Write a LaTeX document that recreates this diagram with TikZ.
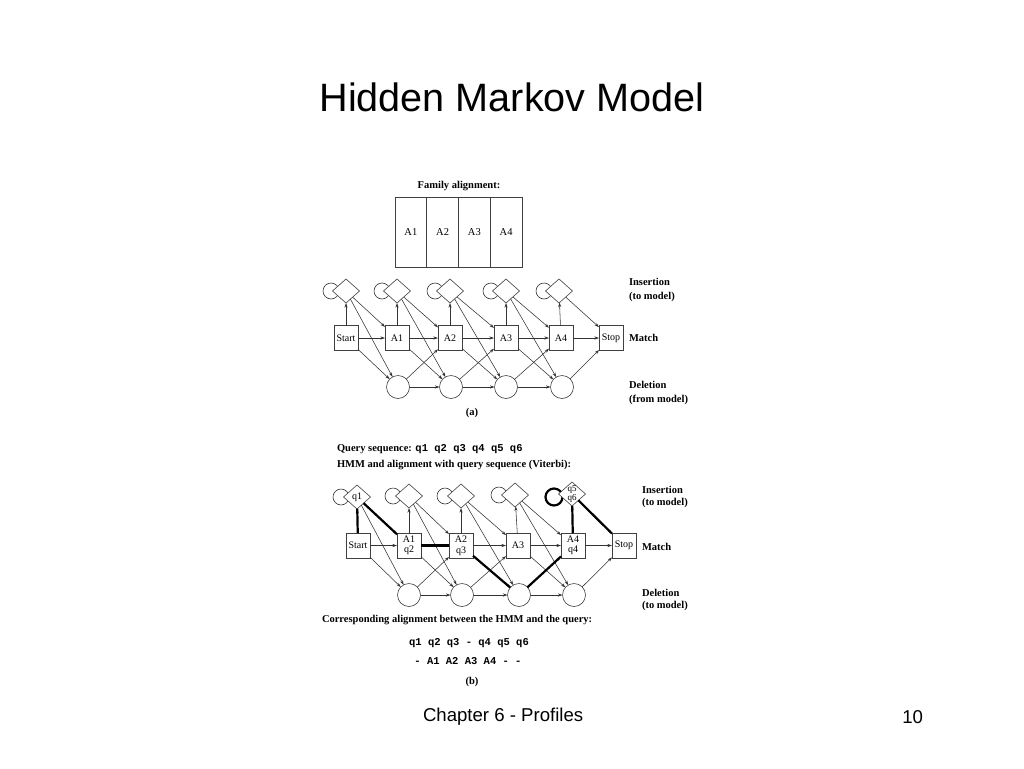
\documentclass[tikz,border=0pt]{standalone}
\usepackage{fontspec}
\setmainfont{Liberation Serif}
\newfontfamily\arialf{Liberation Sans}
\newfontfamily\courf{Liberation Mono}
\usetikzlibrary{shapes.geometric,arrows.meta}
\pgfdeclarelayer{bg}
\pgfdeclarelayer{paper}
\pgfsetlayers{paper,bg,main}
\begin{document}
\begin{tikzpicture}[x=1pt,y=-1pt,
 every node/.style={inner sep=0pt, outer sep=0pt},
 mbox/.style={draw=black!75, line width=0.6pt, fill=white, minimum width=24pt, minimum height=25pt, font=\fontsize{10}{10.5}\selectfont, align=center},
 ins/.style={draw=black!75, line width=0.6pt, fill=white, diamond, minimum width=27pt, minimum height=24pt},
 del/.style={draw=black!75, line width=0.6pt, fill=white, circle, minimum size=23pt},
 cell/.style={draw=black!75, line width=0.6pt, minimum width=31.75pt, minimum height=70pt, font=\fontsize{10.5}{12}\selectfont},
 tr/.style={draw=black!80, line width=0.55pt, -{Stealth[length=4.5pt,width=3pt]}},
 hv/.style={draw=black, line width=2.2pt},
 loopline/.style={draw=black!80, line width=0.6pt},
 lab/.style={font=\bfseries\fontsize{10.5}{14}\selectfont, anchor=west, align=left},
 labb/.style={font=\bfseries\fontsize{10.5}{12.5}\selectfont, anchor=west, align=left},
 txt/.style={font=\bfseries\fontsize{10.5}{12}\selectfont},
 mono/.style={font=\courf\bfseries\fontsize{10.5}{12}\selectfont},
]
\begin{pgfonlayer}{paper}
  \fill[white] (0,0) rectangle (1024,768);
\end{pgfonlayer}
\useasboundingbox (0,0) rectangle (1024,768);

% title and footer
\node[font=\arialf\fontsize{39.6}{42}\selectfont] (title) at (512,97) {Hidden Markov Model};
\node[font=\arialf\fontsize{18.6}{20}\selectfont, anchor=west] (foot) at (423,717) {Chapter 6 - Profiles};
\node[font=\arialf\fontsize{18.6}{20}\selectfont, anchor=east] (page) at (923,717) {10};

% ---------- part (a) ----------
\node[txt] (famt) at (459,186) {Family alignment:};
\node[cell] (c1) at (410.9,232) {A1};
\node[cell] (c2) at (442.6,232) {A2};
\node[cell] (c3) at (474.4,232) {A3};
\node[cell] (c4) at (506.1,232) {A4};

\node[mbox] (aM0) at (346,338) {Start};
\node[mbox] (aM1) at (397,338) {A1};
\node[mbox] (aM2) at (450,338) {A2};
\node[mbox] (aM3) at (506,338) {A3};
\node[mbox] (aM4) at (561,338) {A4};
\node[mbox] (aM5) at (611,338) {Stop};
\foreach \i/\x in {0/346,1/397,2/450,3/506,4/559}{
  \node[ins] (aI\i) at (\x,291) {};
  \begin{pgfonlayer}{bg}
    \draw[loopline] ([xshift=-15pt]aI\i.center) circle[radius=8pt];
  \end{pgfonlayer}
}
\foreach \i/\x in {1/398,2/451,3/506,4/562}{
  \node[del] (aD\i) at (\x,387) {};
}
\node[lab] (aLi) at (629,290) {Insertion\\(to model)};
\node[lab] (aLm) at (629,338) {Match};
\node[lab] (aLd) at (629,393) {Deletion\\(from model)};
\node[txt] (acap) at (472,413) {(a)};

% ---------- part (b) ----------
\node[txt, anchor=west] (q) at (337,449) {Query sequence: {\courf\bfseries q1 q2 q3 q4 q5 q6}};
\node[txt, anchor=west] (hmm) at (337,465) {HMM and alignment with query sequence (Viterbi):};

\node[mbox] (bM0) at (358,545.5) {Start};
\node[mbox] (bM1) at (409,545.5) {A1\\q2};
\node[mbox] (bM2) at (461,545.5) {A2\\q3};
\node[mbox] (bM3) at (518,545.5) {A3};
\node[mbox] (bM4) at (573,545.5) {A4\\q4};
\node[mbox] (bM5) at (624,545.5) {Stop};
\foreach \i/\x/\y in {0/357/497,1/409/496,2/461/496,3/515/495,4/572/494}{
  \node[ins] (bI\i) at (\x,\y) {};
}
\begin{pgfonlayer}{bg}
  \foreach \i in {0,1,2,3}{
    \draw[loopline] ([xshift=-16pt]bI\i.center) circle[radius=8pt];
  }
  \draw[hv] ([xshift=-18pt,yshift=-3pt]bI4.center) circle[radius=8.5pt];
\end{pgfonlayer}
\node[font=\fontsize{10}{10}\selectfont] (q1t) at (bI0) {q1};
\node[font=\fontsize{9}{8.5}\selectfont, align=center] (q56t) at (bI4) {q5\\q6};
\foreach \i/\x in {1/409,2/462,3/519,4/574}{
  \node[del] (bD\i) at (\x,595) {};
}
\node[labb] (bLi) at (642,497) {Insertion\\(to model)};
\node[labb] (bLm) at (642,547) {Match};
\node[labb] (bLd) at (642,600) {Deletion\\(to model)};

\node[txt, anchor=west] (corr) at (322,620) {Corresponding alignment between the HMM and the query:};
\node[mono] (al1) at (469,643) {q1 q2 q3 - q4 q5 q6};
\node[mono] (al2) at (468,661) {- A1 A2 A3 A4 - -};
\node[txt] (bcap) at (472,682) {(b)};

% ---------- transitions ----------
\foreach \p in {a,b}{
  \foreach \i in {0,...,4}{
    \pgfmathtruncatemacro\j{\i+1}
    \draw[tr] (\p M\i) -- (\p I\i);
    \draw[tr] (\p M\i) -- (\p M\j);
    \draw[tr] (\p I\i) -- (\p M\j);
  }
  \foreach \i in {0,...,3}{
    \pgfmathtruncatemacro\j{\i+1}
    \draw[tr] (\p I\i) -- (\p D\j);
    \draw[tr] (\p M\i) -- (\p D\j);
  }
  \foreach \i in {1,...,4}{
    \pgfmathtruncatemacro\j{\i+1}
    \draw[tr] (\p D\i) -- (\p M\j);
  }
  \foreach \i in {1,...,3}{
    \pgfmathtruncatemacro\j{\i+1}
    \draw[tr] (\p D\i) -- (\p D\j);
  }
}

% Viterbi path (thick)
\draw[hv] (bM0) -- (bI0);
\draw[hv] (bI0) -- (bM1);
\draw[hv] (bM1) -- (bM2);
\draw[hv] (bM2) -- (bD3);
\draw[hv] (bD3) -- (bM4);
\draw[hv] (bM4) -- (bI4);
\draw[hv] (bI4) -- (bM5);
\end{tikzpicture}
\end{document}
